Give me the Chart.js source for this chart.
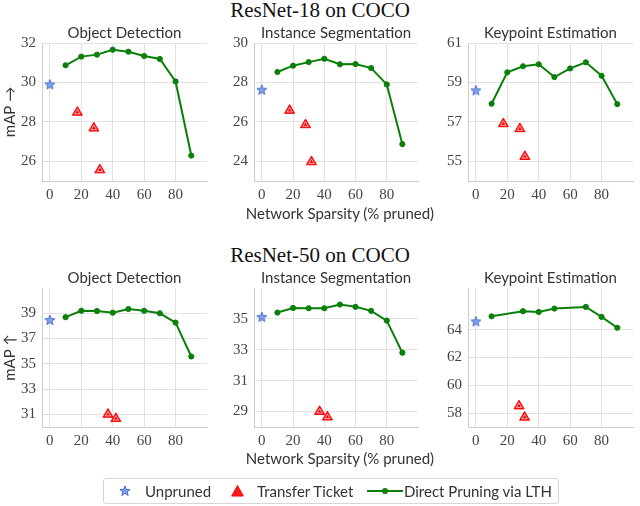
<!DOCTYPE html>
<html>
<head>
<meta charset="utf-8">
<script src="https://cdn.jsdelivr.net/npm/chart.js@4.4.1/dist/chart.umd.min.js"></script>
<style>
  body { margin: 0; background: #fff; }
  #wrap { position: relative; width: 640px; height: 506px; overflow: hidden; font-family: Lato, sans-serif; }
  canvas { position: absolute; }
  .sup { position: absolute; left: 0; width: 640px; text-align: center; font-family: "Liberation Serif", serif; font-size: 21px; line-height: 21px; color: #111; }
  .xlab { position: absolute; left: 190px; width: 300px; text-align: center; font-size: 15px; line-height: 18px; color: #333; }
  #legend { position: absolute; left: 103px; top: 478px; width: 454px; height: 24px; border: 1px solid #d6d6d6; border-radius: 3px; }
  #legend span { position: absolute; top: 3px; font-size: 15px; line-height: 18px; color: #333; white-space: nowrap; }
  #legend svg { position: absolute; }
</style>
</head>
<body>
<div id="wrap">
  <div class="sup" style="top:0px">ResNet-18 on COCO</div>
  <div class="sup" style="top:245px">ResNet-50 on COCO</div>

  <canvas id="c1"></canvas>
  <canvas id="c2"></canvas>
  <canvas id="c3"></canvas>
  <canvas id="c4"></canvas>
  <canvas id="c5"></canvas>
  <canvas id="c6"></canvas>

  <div class="xlab" style="top:204px">Network Sparsity (% pruned)</div>
  <div class="xlab" style="top:449px">Network Sparsity (% pruned)</div>

  <div id="legend">
    <svg style="left:15px;top:6px" width="12" height="12" viewBox="0 0 12 12">
      <polygon points="6,0.8 7.3,4.4 11.1,4.5 8.1,6.8 9.2,10.5 6,8.3 2.8,10.5 3.9,6.8 0.9,4.5 4.7,4.4" fill="#7fa2ea" stroke="#4a6fcf" stroke-width="1"/>
    </svg>
    <span style="left:41px">Unpruned</span>
    <svg style="left:127px;top:6px" width="13" height="12" viewBox="0 0 13 12">
      <polygon points="6.5,0.5 12.3,11 0.7,11" fill="#ff1a1a" stroke="#ff0000" stroke-width="1"/>
    </svg>
    <span style="left:153px">Transfer Ticket</span>
    <svg style="left:263px;top:6px" width="36" height="12" viewBox="0 0 36 12">
      <line x1="0" y1="6" x2="36" y2="6" stroke="#0a800a" stroke-width="2"/>
      <circle cx="18" cy="6" r="3" fill="#0a800a"/>
    </svg>
    <span style="left:300px">Direct Pruning via LTH</span>
  </div>
</div>

<script>
// --- data ---
const sparsity = [10, 20, 30, 40, 50, 60, 70, 80, 90];
const r50KeySparsity = [10, 30, 40, 50, 70, 80, 90];
const xTicks = [0, 20, 40, 60, 80];

// ResNet-18
const r18DetLth = [30.87, 31.31, 31.41, 31.66, 31.56, 31.34, 31.19, 30.05, 26.29];
const r18DetBase = 29.9;
const r18DetTicketX = [17.5, 28, 31.8];
const r18DetTicketY = [28.48, 27.68, 25.56];
const r18DetTicks = [26, 28, 30, 32];

const r18SegLth = [28.53, 28.85, 29.03, 29.2, 28.92, 28.93, 28.73, 27.9, 24.87];
const r18SegBase = 27.63;
const r18SegTicketX = [17.8, 28, 31.8];
const r18SegTicketY = [26.58, 25.85, 23.97];
const r18SegTicks = [24, 26, 28, 30];

const r18KeyLth = [57.92, 59.51, 59.82, 59.92, 59.27, 59.71, 60.02, 59.34, 57.9];
const r18KeyBase = 58.6;
const r18KeyTicketX = [17.5, 28, 31.2];
const r18KeyTicketY = [56.9, 56.65, 55.24];
const r18KeyTicks = [55, 57, 59, 61];

// ResNet-50
const r50DetLth = [38.69, 39.2, 39.18, 39.05, 39.34, 39.2, 39.0, 38.26, 35.58];
const r50DetBase = 38.47;
const r50DetTicketX = [37, 42];
const r50DetTicketY = [31.0, 30.66];
const r50DetTicks = [31, 33, 35, 37, 39];

const r50SegLth = [35.41, 35.71, 35.69, 35.69, 35.93, 35.78, 35.52, 34.89, 32.81];
const r50SegBase = 35.13;
const r50SegTicketX = [37, 42];
const r50SegTicketY = [29.0, 28.64];
const r50SegTicks = [29, 31, 33, 35];

const r50KeyLth = [64.96, 65.33, 65.28, 65.52, 65.64, 64.92, 64.14];
const r50KeyBase = 64.6;
const r50KeyTicketX = [27.5, 31];
const r50KeyTicketY = [58.51, 57.7];
const r50KeyTicks = [58, 60, 62, 64];

const GREEN = '#0a800a';
const GRID = '#e2e2e2';

// estrela azul desenhada num canvas pequeno, usada como pointStyle
function makeStar() {
    const c = document.createElement('canvas');
    c.width = 12; c.height = 12;
    const g = c.getContext('2d');
    g.beginPath();
    for (let i = 0; i < 10; i++) {
        const r = i % 2 === 0 ? 5.2 : 2.2;
        const a = -Math.PI / 2 + i * Math.PI / 5;
        const px = 6 + r * Math.cos(a), py = 6.4 + r * Math.sin(a);
        i === 0 ? g.moveTo(px, py) : g.lineTo(px, py);
    }
    g.closePath();
    g.fillStyle = '#7fa2ea';
    g.fill();
    g.strokeStyle = '#4a6fcf';
    g.lineWidth = 1;
    g.stroke();
    return c;
}
const star = makeStar();

function toPoints(xs, ys) {
    return xs.map((x, i) => ({ x: x, y: ys[i] }));
}

function painel(id, box, p) {
    const el = document.getElementById(id);
    const left = box.plotL - box.yw;
    const top = box.plotT - 19;
    const width = box.plotR + 2 - left;
    const height = box.plotB + 24 - top;
    el.style.left = left + 'px';
    el.style.top = top + 'px';
    el.width = width;
    el.height = height;
    el.style.width = width + 'px';
    el.style.height = height + 'px';

    new Chart(el, {
        type: 'scatter',
        data: {
            datasets: [
                {
                    data: toPoints([0], [p.base]),
                    pointStyle: star,
                    pointRadius: 6
                },
                {
                    data: toPoints(p.ticketX, p.ticketY),
                    pointStyle: 'triangle',
                    pointRadius: 3,
                    backgroundColor: '#ff0000',
                    borderColor: 'rgba(255,255,255,0.8)',
                    borderWidth: 0.8
                },
                {
                    data: toPoints(p.ticketX, p.ticketY),
                    pointStyle: 'triangle',
                    pointRadius: 5.8,
                    backgroundColor: '#ff1a1a',
                    borderColor: '#ff0000',
                    borderWidth: 1
                },
                {
                    data: toPoints(p.xs, p.lth),
                    showLine: true,
                    borderColor: GREEN,
                    borderWidth: 2,
                    pointRadius: 2.6,
                    pointBackgroundColor: GREEN,
                    pointBorderColor: GREEN,
                    pointBorderWidth: 1
                }
            ]
        },
        options: {
            responsive: false,
            animation: false,
            events: [],
            layout: { padding: { top: 0, right: 2, bottom: 0, left: 0 } },
            plugins: {
                legend: { display: false },
                tooltip: { enabled: false },
                title: {
                    display: true,
                    text: p.title,
                    fullSize: false,
                    color: '#333',
                    font: { family: 'Lato', size: 15, weight: 'normal' },
                    padding: { top: 0, bottom: 1 }
                }
            },
            scales: {
                x: {
                    type: 'linear',
                    min: -5,
                    max: 100,
                    afterBuildTicks: s => { s.ticks = xTicks.map(v => ({ value: v })); },
                    afterFit: s => { s.height = 24; },
                    grid: { color: GRID, drawTicks: false },
                    border: { color: '#cccccc' },
                    ticks: { color: '#444', padding: 5, font: { family: 'Liberation Serif', size: 15 } }
                },
                y: {
                    min: p.yMin,
                    max: p.yMax,
                    afterBuildTicks: s => { s.ticks = p.yTicks.map(v => ({ value: v })); },
                    afterFit: s => { s.width = box.yw; },
                    grid: { color: GRID, drawTicks: false },
                    border: { color: '#cccccc' },
                    title: {
                        display: !!p.yLabel,
                        text: p.yLabel || '',
                        color: '#333',
                        font: { family: 'Lato', size: 15 },
                        padding: { top: 1, bottom: 0 }
                    },
                    ticks: { color: '#444', padding: 6, font: { family: 'Liberation Serif', size: 15 } }
                }
            }
        }
    });
}

const colL = [42, 254, 468];
const colR = [212, 423, 638];
const rowT = [43, 288];
const rowB = [181, 427];
function caixa(r, c) {
    return { plotL: colL[c], plotR: colR[c], plotT: rowT[r], plotB: rowB[r], yw: c === 0 ? 42 : 34 };
}

painel('c1', caixa(0, 0), { title: 'Object Detection', xs: sparsity, lth: r18DetLth, base: r18DetBase,
    ticketX: r18DetTicketX, ticketY: r18DetTicketY, yMin: 25, yMax: 32, yTicks: r18DetTicks, yLabel: 'mAP →' });
painel('c2', caixa(0, 1), { title: 'Instance Segmentation', xs: sparsity, lth: r18SegLth, base: r18SegBase,
    ticketX: r18SegTicketX, ticketY: r18SegTicketY, yMin: 23, yMax: 30, yTicks: r18SegTicks });
painel('c3', caixa(0, 2), { title: 'Keypoint Estimation', xs: sparsity, lth: r18KeyLth, base: r18KeyBase,
    ticketX: r18KeyTicketX, ticketY: r18KeyTicketY, yMin: 54, yMax: 61, yTicks: r18KeyTicks });
painel('c4', caixa(1, 0), { title: 'Object Detection', xs: sparsity, lth: r50DetLth, base: r50DetBase,
    ticketX: r50DetTicketX, ticketY: r50DetTicketY, yMin: 30, yMax: 41, yTicks: r50DetTicks, yLabel: 'mAP ↑' });
painel('c5', caixa(1, 1), { title: 'Instance Segmentation', xs: sparsity, lth: r50SegLth, base: r50SegBase,
    ticketX: r50SegTicketX, ticketY: r50SegTicketY, yMin: 28, yMax: 37, yTicks: r50SegTicks });
painel('c6', caixa(1, 2), { title: 'Keypoint Estimation', xs: r50KeySparsity, lth: r50KeyLth, base: r50KeyBase,
    ticketX: r50KeyTicketX, ticketY: r50KeyTicketY, yMin: 57, yMax: 67, yTicks: r50KeyTicks });
</script>
</body>
</html>
